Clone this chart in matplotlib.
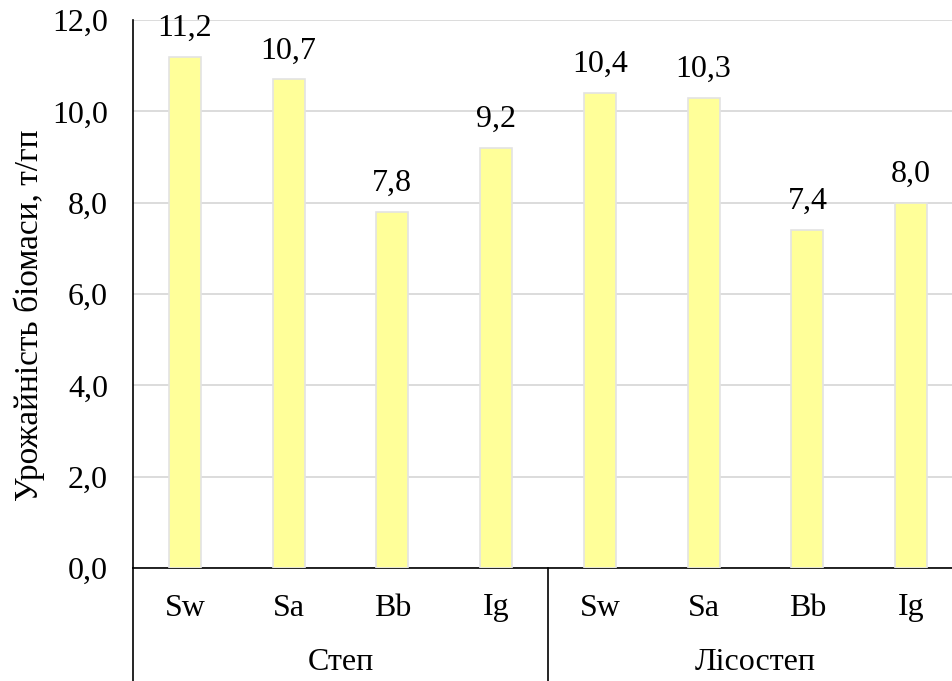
import matplotlib
matplotlib.use("Agg")
import matplotlib.pyplot as plt
import matplotlib.transforms as mtransforms
import numpy as np

plt.rcParams['font.family'] = ['Liberation Serif', 'DejaVu Serif']

crops = ["Sw", "Sa", "Bb", "Ig", "Sw", "Sa", "Bb", "Ig"]
zones = ["Степ", "Лісостеп"]
yields = [11.2, 10.7, 7.8, 9.2, 10.4, 10.3, 7.4, 8.0]
ylabel = "Урожайність біомаси, т/гп"

FS = 23

fig = plt.figure(figsize=(9.52, 6.81), dpi=100)
W, H = 952, 681
left, right, top, bottom = 133, 963, 20, 568
ax = fig.add_axes([left / W, 1 - bottom / H, (right - left) / W, (bottom - top) / H])

x = np.arange(len(crops))
bars = ax.bar(x, yields, width=0.31, color="#FFFF99", edgecolor="#E3E3E3", linewidth=1.2, zorder=3)

for b, v in zip(bars, yields):
    ax.annotate(f"{v:.1f}".replace(".", ","), (b.get_x() + b.get_width() / 2, v),
                xytext=(0, 10), textcoords="offset points", ha="center", va="bottom",
                fontsize=FS)

ax.set_xlim(-0.5, len(crops) - 0.5)
ax.set_ylim(0, 12)
ticks = np.arange(0, 12.1, 2)
ax.set_yticks(ticks)
ax.set_yticklabels([f"{t:.1f}".replace(".", ",") for t in ticks], fontsize=FS)
ax.tick_params(axis="y", length=0, pad=18)
ax.set_xticks([])
ax.grid(axis="y", color="#D9D9D9", linewidth=1.3, zorder=0)

for s in ["top", "right"]:
    ax.spines[s].set_visible(False)
for s in ["left", "bottom"]:
    ax.spines[s].set_color("black")
    ax.spines[s].set_linewidth(1.2)

ax.set_ylabel(ylabel, fontsize=FS + 1)
ax.yaxis.set_label_coords((29 - left) / (right - left), (bottom - 315) / (bottom - top))
ax.yaxis.label.set_va("center")

# multi-level category axis
trans = mtransforms.blended_transform_factory(ax.transData, ax.transAxes)
ax_h = bottom - top
for i, c in enumerate(crops):
    ax.text(i, -40 / ax_h, c, transform=trans, ha="center", va="center", fontsize=FS)
for g, z in enumerate(zones):
    ax.text(g * 4 + 1.5, -95 / ax_h, z, transform=trans, ha="center", va="center", fontsize=FS)
ybot = -(H - bottom) / ax_h
for xs in [-0.5, 3.5, 7.5]:
    ax.plot([xs, xs], [0, ybot], transform=trans, color="black", linewidth=1.2, clip_on=False)

fig.savefig("out.png", dpi=100)
